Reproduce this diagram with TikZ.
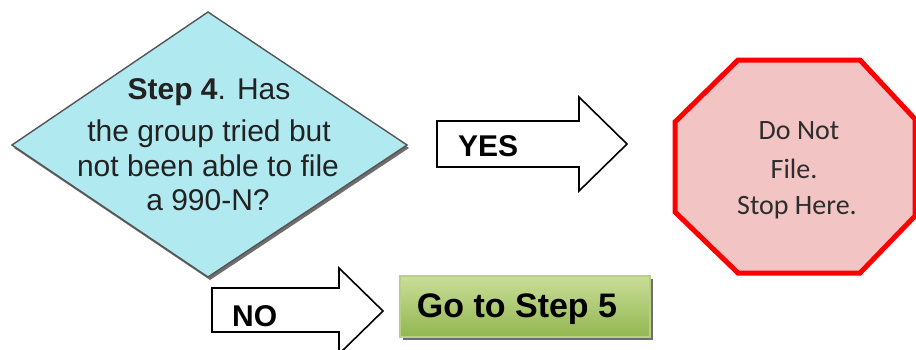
\documentclass[tikz,border=0pt]{standalone}
\usepackage{fontspec}
\setmainfont{Liberation Sans}
\newfontfamily\calib{Carlito}
\definecolor{diafill}{RGB}{176,234,240}
\definecolor{diaedge}{RGB}{85,85,85}
\definecolor{shadowgray}{RGB}{110,110,110}
\definecolor{octfill}{RGB}{242,196,196}
\definecolor{octedge}{RGB}{255,0,0}
\definecolor{gtop}{RGB}{202,222,152}
\definecolor{gbot}{RGB}{146,182,80}
\definecolor{gedge}{RGB}{184,208,132}
\definecolor{txtgray}{RGB}{34,34,34}
\definecolor{octtxt}{RGB}{45,45,45}
\begin{document}
\begin{tikzpicture}[x=1pt,y=-1pt,
  diatext/.style={anchor=base,inner sep=0pt,text=txtgray,font=\fontsize{30}{36}\selectfont},
  octtext/.style={anchor=base,inner sep=0pt,text=octtxt,font=\calib\fontsize{28}{34}\selectfont},
  arrowlabel/.style={anchor=base west,inner sep=0pt,font=\bfseries\fontsize{30}{36}\selectfont},
  blockarrow/.style={draw=black,line width=1.6pt,fill=white,line join=miter},
  gotext/.style={anchor=base,inner sep=0pt,font=\bfseries\fontsize{34}{40}\selectfont}]
\useasboundingbox (0,0) rectangle (916,349);
\clip (0,0) rectangle (916,349);
\fill[white] (0,0) rectangle (916,349);

% decision diamond
\coordinate (dT) at (208,12);
\coordinate (dR) at (407,145);
\coordinate (dB) at (208,277);
\coordinate (dL) at (12,145);
\fill[shadowgray] ([shift={(2,3)}]dT) -- ([shift={(2,3)}]dR) -- ([shift={(2,3)}]dB) -- ([shift={(2,3)}]dL) -- cycle;
\draw[diaedge,fill=diafill,line width=1.4pt] (dT) -- (dR) -- (dB) -- (dL) -- cycle;
\node[diatext] (d1) at (209,99) {\textbf{Step 4}. Has};
\node[diatext] (d2) at (209,141) {the group tried but};
\node[diatext] (d3) at (208,176) {not been able to file};
\node[diatext] (d4) at (208,210) {a 990-N?};

% YES arrow
\draw[blockarrow] (437,121) -- (579,121) -- (579,97) -- (627,144) -- (579,191) -- (579,167) -- (437,167) -- cycle;
\node[arrowlabel] (yes) at (458,156) {YES};

% NO arrow
\draw[blockarrow] (212,288) -- (339,288) -- (339,268) -- (383,311) -- (339,354) -- (339,332) -- (212,332) -- cycle;
\node[arrowlabel] (no) at (232,326) {NO};

% stop octagon
\draw[octedge,fill=octfill,line width=5pt,line join=miter]
  (738,60) -- (860,60) -- (915,119) -- (915,216) -- (860,273) -- (738,273) -- (675,212) -- (675,122) -- cycle;
\node[octtext] (o1) at (799,139) {Do Not};
\node[octtext] (o2) at (794,178) {File.};
\node[octtext] (o3) at (797,214) {Stop Here.};

% go to step 5 box
\fill[shadowgray] (403,279) rectangle (653,340);
\node[draw=gedge,line width=1.2pt,top color=gtop,bottom color=gbot,minimum width=250pt,minimum height=61pt,inner sep=0pt] (go) at (525,306.5) {};
\node[gotext] (gotxt) at (517,317) {Go to Step 5};
\end{tikzpicture}
\end{document}
